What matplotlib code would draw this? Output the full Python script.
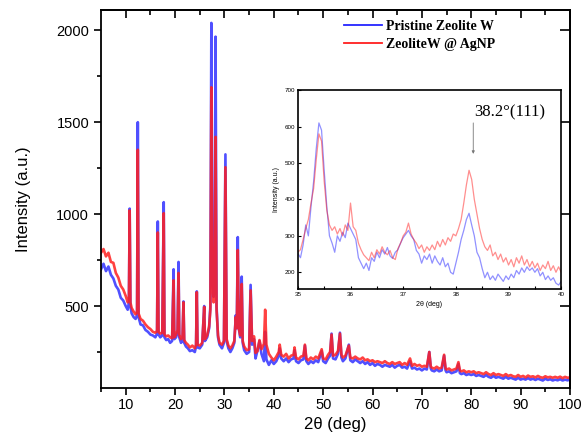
import numpy as np
import matplotlib
matplotlib.use('Agg')
import matplotlib.pyplot as plt
from matplotlib.lines import Line2D

matplotlib.rcParams.update({'font.family': 'Liberation Sans', 'font.size': 11})

# ---- main pattern: 2theta, pristine (blue), Ag loaded (red) ----
main_x = [5.0, 5.5, 6.0, 6.5, 7.0, 7.5, 8.0, 8.5, 9.0, 9.5, 10.0, 10.4, 10.65, 10.8, 10.95,
          11.2, 11.6, 12.0, 12.3, 12.45, 12.6, 13.0, 13.5, 14.0, 14.5, 15.0, 15.5, 16.0, 16.35,
          16.5, 16.65, 17.0, 17.4, 17.7, 17.85, 18.2, 18.6, 19.0, 19.4, 19.7, 19.85, 20.2, 20.5,
          20.7, 20.85, 21.2, 21.5, 21.7, 21.85, 22.2, 22.6, 23.0, 23.5, 24.0, 24.25, 24.4, 24.55,
          25.0, 25.5, 25.9, 26.05, 26.5, 26.9, 27.15, 27.35, 27.55, 27.8, 28.0, 28.2, 28.4, 28.7,
          29.0, 29.5, 29.9, 30.2, 30.45, 30.8, 31.2, 31.6, 32.0, 32.3, 32.5, 32.7, 32.9, 33.2,
          33.5, 33.7, 34.0, 34.5, 35.0, 35.3, 35.6, 36.0, 36.3, 36.7, 37.1, 37.5, 38.0, 38.25,
          38.5, 39.0, 39.5, 40.0, 40.5, 41.0, 41.2, 41.5, 42.0, 42.5, 43.0, 43.5, 44.0, 44.2,
          44.5, 45.0, 45.5, 46.0, 46.3, 46.6, 47.0, 47.5, 48.0, 48.5, 49.0, 49.7, 50.0, 50.5,
          51.0, 51.4, 51.7, 52.0, 52.5, 53.0, 53.4, 53.7, 54.0, 54.5, 55.2, 55.5, 56.0, 56.5,
          57.0, 57.5, 58.0, 58.5, 59.0, 59.5, 60.0, 60.5, 61.0, 61.5, 62.0, 62.5, 63.0, 63.5,
          64.0, 64.5, 65.0, 65.5, 66.0, 66.5, 67.0, 67.6, 68.0, 68.5, 69.0, 69.5, 70.0, 70.5,
          71.0, 71.5, 71.8, 72.0, 72.5, 73.0, 73.5, 74.0, 74.5, 74.8, 75.0, 75.5, 76.0, 76.5,
          77.0, 77.4, 77.7, 78.0, 78.5, 79.0, 79.5, 80.0, 80.5, 81.0, 81.5, 82.0, 82.5, 83.0,
          83.5, 84.0, 84.5, 85.0, 85.5, 86.0, 86.5, 87.0, 87.5, 88.0, 88.5, 89.0, 89.5, 90.0,
          90.5, 91.0, 91.5, 92.0, 92.5, 93.0, 93.5, 94.0, 94.5, 95.0, 95.5, 96.0, 96.5, 97.0,
          97.5, 98.0, 98.5, 99.0, 99.5, 100.0]
main_blue = [700, 730, 690, 715, 670, 650, 610, 590, 545, 530, 500, 480, 520, 1030, 500,
             460, 440, 430, 450, 1500, 440, 400, 395, 370, 360, 345, 340, 330, 350,
             960, 345, 330, 340, 1065, 330, 315, 320, 300, 310, 700, 320, 330, 360,
             740, 330, 300, 310, 525, 300, 280, 270, 255, 260, 250, 280, 580, 275,
             270, 290, 500, 310, 330, 380, 500, 2040, 700, 550, 600, 1965, 500, 330,
             290, 270, 300, 1325, 310, 270, 250, 270, 300, 450, 380, 875, 380, 330,
             660, 300, 260, 240, 250, 615, 290, 320, 215, 260, 310, 240, 200, 360,
             210, 180, 205, 185, 200, 230, 270, 215, 200, 215, 195, 210, 215, 260,
             200, 190, 205, 210, 285, 200, 185, 200, 190, 205, 195, 255, 200, 190,
             215, 230, 350, 215, 210, 240, 355, 220, 200, 215, 290, 205, 195, 210,
             200, 190, 200, 185, 195, 180, 190, 175, 185, 180, 170, 180, 175, 170,
             180, 165, 175, 180, 165, 170, 160, 200, 160, 165, 155, 160, 150, 160,
             155, 250, 160, 150, 145, 155, 145, 150, 230, 150, 140, 145, 135, 140,
             145, 185, 135, 130, 135, 125, 130, 125, 130, 120, 125, 120, 115, 125,
             115, 110, 120, 110, 115, 110, 105, 115, 105, 110, 105, 100, 110, 100,
             105, 100, 108, 100, 105, 98, 105, 100, 95, 105, 98, 102, 95, 100,
             96, 102, 95, 100, 96, 100]
main_red = [790, 810, 770, 790, 740, 735, 680, 655, 610, 590, 555, 520, 540, 1020, 520,
            490, 470, 455, 470, 1350, 460, 430, 420, 400, 385, 375, 360, 355, 365,
            900, 360, 350, 355, 1005, 345, 335, 340, 330, 325, 640, 330, 345, 370,
            680, 345, 320, 330, 520, 315, 300, 290, 275, 285, 270, 290, 575, 290,
            285, 300, 495, 320, 340, 390, 480, 1690, 650, 520, 560, 1420, 480, 340,
            300, 290, 310, 1255, 320, 285, 270, 285, 310, 440, 380, 805, 380, 340,
            620, 310, 280, 260, 265, 585, 310, 335, 245, 255, 315, 265, 295, 480,
            290, 240, 220, 205, 225, 250, 290, 235, 225, 240, 215, 230, 235, 275,
            220, 210, 225, 230, 290, 215, 205, 220, 210, 225, 215, 265, 215, 210,
            235, 250, 345, 230, 235, 255, 350, 235, 220, 230, 285, 220, 215, 225,
            215, 210, 220, 205, 210, 200, 205, 195, 200, 195, 190, 200, 190, 185,
            195, 185, 190, 195, 180, 190, 180, 215, 175, 185, 175, 180, 170, 175,
            170, 250, 170, 165, 160, 170, 160, 165, 235, 160, 155, 160, 150, 155,
            160, 195, 150, 145, 150, 140, 145, 140, 145, 135, 140, 135, 130, 140,
            130, 125, 135, 125, 130, 125, 120, 130, 120, 125, 118, 115, 125, 115,
            120, 112, 122, 115, 118, 112, 120, 113, 110, 118, 112, 115, 110, 115,
            110, 116, 108, 115, 110, 112]

# ---- inset: 35-40 deg zoom ----
inset_x = np.round(np.arange(35.0, 40.001, 0.05), 2)
inset_blue = [252, 240, 275, 330, 300, 380, 450, 540, 610, 590,
              480, 380, 300, 280, 255, 300, 285, 310, 295, 335,
              320, 305, 290, 240, 225, 210, 225, 205, 240, 230,
              255, 240, 262, 250, 268, 245, 238, 255, 262, 280,
              295, 305, 315, 300, 290, 260, 250, 225, 245, 235,
              250, 225, 245, 230, 220, 240, 215, 225, 200, 195,
              225, 255, 290, 315, 345, 362, 330, 300, 255, 240,
              210, 185, 200, 180, 190, 178, 195, 185, 175, 190,
              180, 195, 185, 205, 195, 212, 200, 215, 205, 212,
              200, 210, 190, 200, 180, 190, 178, 185, 170, 165,
              175]
inset_red = [255, 262, 290, 320, 345, 390, 430, 510, 580, 560,
             450, 370, 330, 315, 325, 305, 320, 300, 330, 315,
             390, 325, 315, 280, 262, 248, 240, 232, 255, 240,
             262, 250, 270, 255, 248, 260, 240, 235, 265, 280,
             300, 310, 335, 305, 290, 280, 265, 275, 255, 270,
             260, 275, 262, 285, 270, 290, 275, 295, 285, 305,
             300, 320, 345, 390, 440, 480, 455, 400, 360, 320,
             290, 270, 260, 275, 245, 255, 235, 250, 228, 240,
             220, 235, 215, 240, 225, 245, 220, 235, 215, 230,
             212, 225, 205, 220, 210, 230, 205, 218, 200, 215,
             200]

blue = '#2424ff'
red = '#ff1f1f'

fig = plt.figure(figsize=(5.84, 4.44), dpi=100)
ax = fig.add_axes([0.173, 0.126, 0.803, 0.851])
ax.plot(main_x, main_blue, color=blue, lw=1.9, alpha=0.8)
ax.plot(main_x, main_red, color=red, lw=1.9, alpha=0.85)
ax.set_xlim(5, 100)
ax.set_ylim(54, 2109)
ax.set_xticks(range(10, 101, 10))
ax.set_xticks(range(5, 101, 5), minor=True)
ax.set_yticks([500, 1000, 1500, 2000])
ax.set_yticks([250, 750, 1250, 1750], minor=True)
ax.tick_params(axis='both', which='major', direction='out', length=5, width=1.2, labelsize=10.5)
ax.tick_params(axis='both', which='minor', direction='out', length=3, width=1.2)
ax.tick_params(axis='x', which='both', pad=2)
for s in ax.spines.values():
    s.set_linewidth(1.3)
ax.set_xlabel('2θ (deg)', fontsize=12, labelpad=4)
ax.set_ylabel('Intensity (a.u.)', fontsize=12, labelpad=18)

# inward ticks on the top and right edges
top = ax.secondary_xaxis('top')
top.set_xticks(range(10, 101, 10))
top.set_xticks(range(15, 101, 10), minor=True)
top.tick_params(which='major', direction='in', length=6, width=1.2, labeltop=False)
top.tick_params(which='minor', direction='in', length=3.5, width=1.2)
right = ax.secondary_yaxis('right')
right.set_yticks([500, 1000, 1500, 2000])
right.tick_params(direction='in', length=7, width=1.2, labelright=False)
right.yaxis.set_minor_locator(matplotlib.ticker.NullLocator())
top.spines['top'].set_linewidth(1.3)
right.spines['right'].set_linewidth(1.3)

handles = [Line2D([], [], color=blue, lw=1.3), Line2D([], [], color=red, lw=1.3)]
ax.legend(handles, ['Pristine Zeolite W', 'ZeoliteW @ AgNP'], loc='upper left',
          bbox_to_anchor=(0.519, 0.975), frameon=False, borderpad=0, borderaxespad=0,
          handlelength=2.7, handletextpad=0.3, labelspacing=0.35,
          prop={'family': 'Liberation Serif', 'weight': 'bold', 'size': 10})

# inset
ins = fig.add_axes([0.510, 0.349, 0.451, 0.448])
ins.plot(inset_x, inset_blue, color=blue, lw=0.9, alpha=0.5)
ins.plot(inset_x, inset_red, color=red, lw=0.9, alpha=0.5)
ins.set_xlim(35, 40)
ins.set_ylim(154, 700)
ins.set_xticks(range(35, 41))
ins.set_xticks(np.arange(35.5, 40, 1.0), minor=True)
ins.set_yticks(range(200, 701, 100))
ins.tick_params(axis='both', which='both', direction='in', length=2.5, width=0.8,
                labelsize=4.5, pad=2)
for s in ins.spines.values():
    s.set_linewidth(1.2)
ins.set_xlabel('2θ (deg)', fontsize=5, labelpad=3)
ins.set_ylabel('Intensity (a.u.)', fontsize=5, labelpad=3)
ins.text(39.03, 640, '38.2°(111)', ha='center', va='center', fontsize=12,
         family='Liberation Serif')
ins.annotate('', xy=(38.33, 525), xytext=(38.33, 610),
             arrowprops=dict(arrowstyle='-|>', color='#777777', lw=0.6, mutation_scale=4,
                             shrinkA=0, shrinkB=0))

fig.savefig('out.png', dpi=100)
